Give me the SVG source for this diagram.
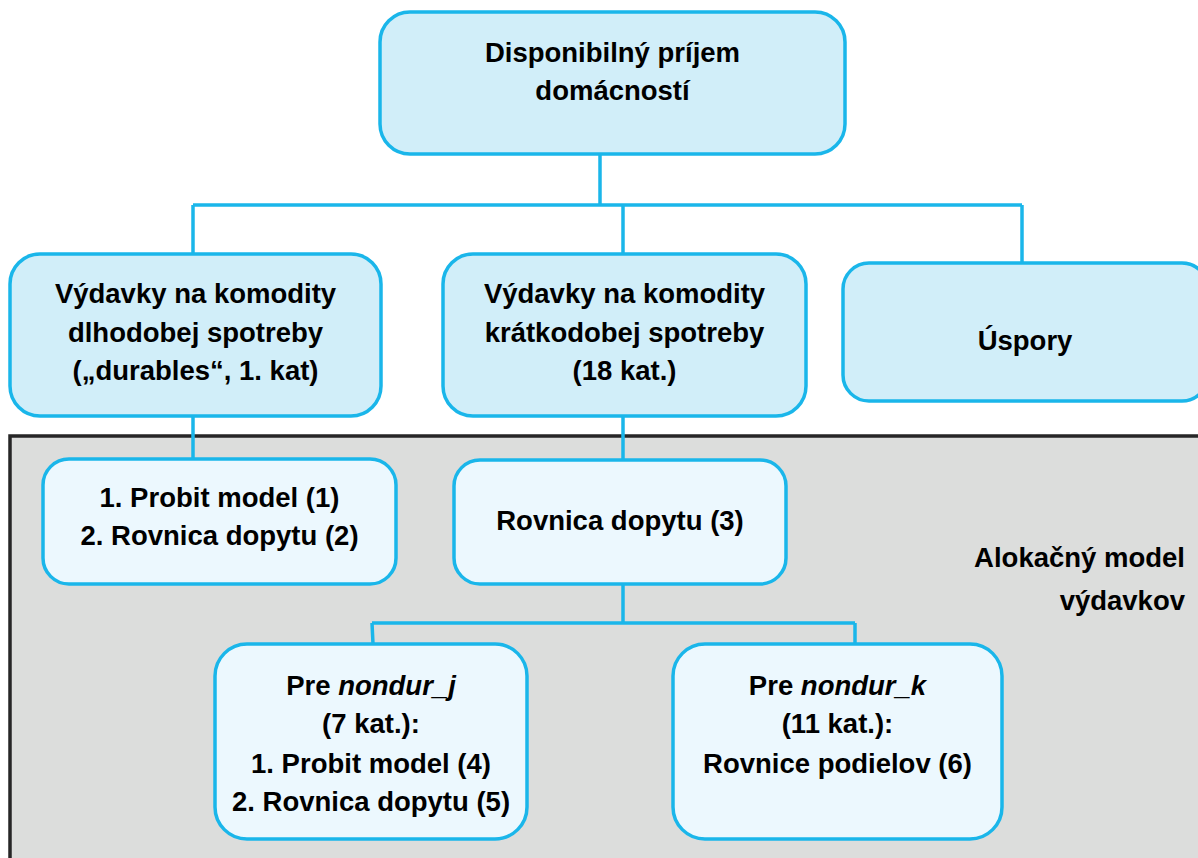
<svg xmlns="http://www.w3.org/2000/svg" width="1198" height="858" viewBox="0 0 1198 858">
<style>
.bg{fill:#ffffff}
.zone{fill:#dcdddc;stroke:#262626;stroke-width:3.5}
.top{fill:#d1eef9;stroke:#1ab6ea;stroke-width:3.5}
.sub{fill:#ecf8fe;stroke:#1ab6ea;stroke-width:3.5}
.conn{fill:none;stroke:#1ab6ea;stroke-width:3.5}
text{font-family:"Liberation Sans",Arial,sans-serif;font-weight:bold;font-size:27.5px;fill:#000;text-anchor:middle}
.r{text-anchor:end}
.i{font-style:italic}
</style>
<rect class="bg" x="0" y="0" width="1198" height="858"/>
<g id="zone-alokacny">
<rect class="zone" x="10" y="436" width="1200" height="440"/>
<text class="r" x="1185" y="567">Alokačný model</text>
<text class="r" x="1185" y="610">výdavkov</text>
</g>
<g id="connectors">
<path class="conn" d="M600 154 V205 M193 205 H1022 M193 205 V254 M623 205 V254 M1022 205 V263"/>
<path class="conn" d="M193 416 V459"/>
<path class="conn" d="M623 416 V460"/>
<path class="conn" d="M623 584 V623 M372 623 H855 M372 623 L373 644 M855 623 V644"/>
</g>
<g id="node-prijem">
<rect class="top" x="380" y="12" width="465" height="142" rx="30"/>
<text x="612.5" y="62">Disponibilný príjem</text>
<text x="612.5" y="100">domácností</text>
</g>
<g id="node-durables">
<rect class="top" x="10" y="254" width="371" height="162" rx="30"/>
<text x="195.5" y="303">Výdavky na komodity</text>
<text x="195.5" y="342">dlhodobej spotreby</text>
<text x="195.5" y="380">(„durables“, 1. kat)</text>
</g>
<g id="node-nondurables">
<rect class="top" x="443" y="254" width="363" height="162" rx="30"/>
<text x="624.5" y="303">Výdavky na komodity</text>
<text x="624.5" y="342">krátkodobej spotreby</text>
<text x="624.5" y="380">(18 kat.)</text>
</g>
<g id="node-uspory">
<rect class="top" x="843" y="263" width="365" height="138" rx="26"/>
<text x="1025" y="350">Úspory</text>
</g>
<g id="node-probit1">
<rect class="sub" x="43" y="459" width="353" height="125" rx="26"/>
<text x="219.5" y="507">1. Probit model (1)</text>
<text x="219.5" y="545">2. Rovnica dopytu (2)</text>
</g>
<g id="node-rovnica3">
<rect class="sub" x="454" y="460" width="332" height="124" rx="26"/>
<text x="620" y="530">Rovnica dopytu (3)</text>
</g>
<g id="node-nondur-j">
<rect class="sub" x="215" y="644" width="312" height="195" rx="32"/>
<text x="371" y="695">Pre <tspan class="i">nondur_j</tspan></text>
<text x="371" y="733">(7 kat.):</text>
<text x="371" y="773">1. Probit model (4)</text>
<text x="371" y="811">2. Rovnica dopytu (5)</text>
</g>
<g id="node-nondur-k">
<rect class="sub" x="673" y="644" width="329" height="195" rx="32"/>
<text x="837.5" y="695">Pre <tspan class="i">nondur_k</tspan></text>
<text x="837.5" y="733">(11 kat.):</text>
<text x="837.5" y="773">Rovnice podielov (6)</text>
</g>
</svg>
